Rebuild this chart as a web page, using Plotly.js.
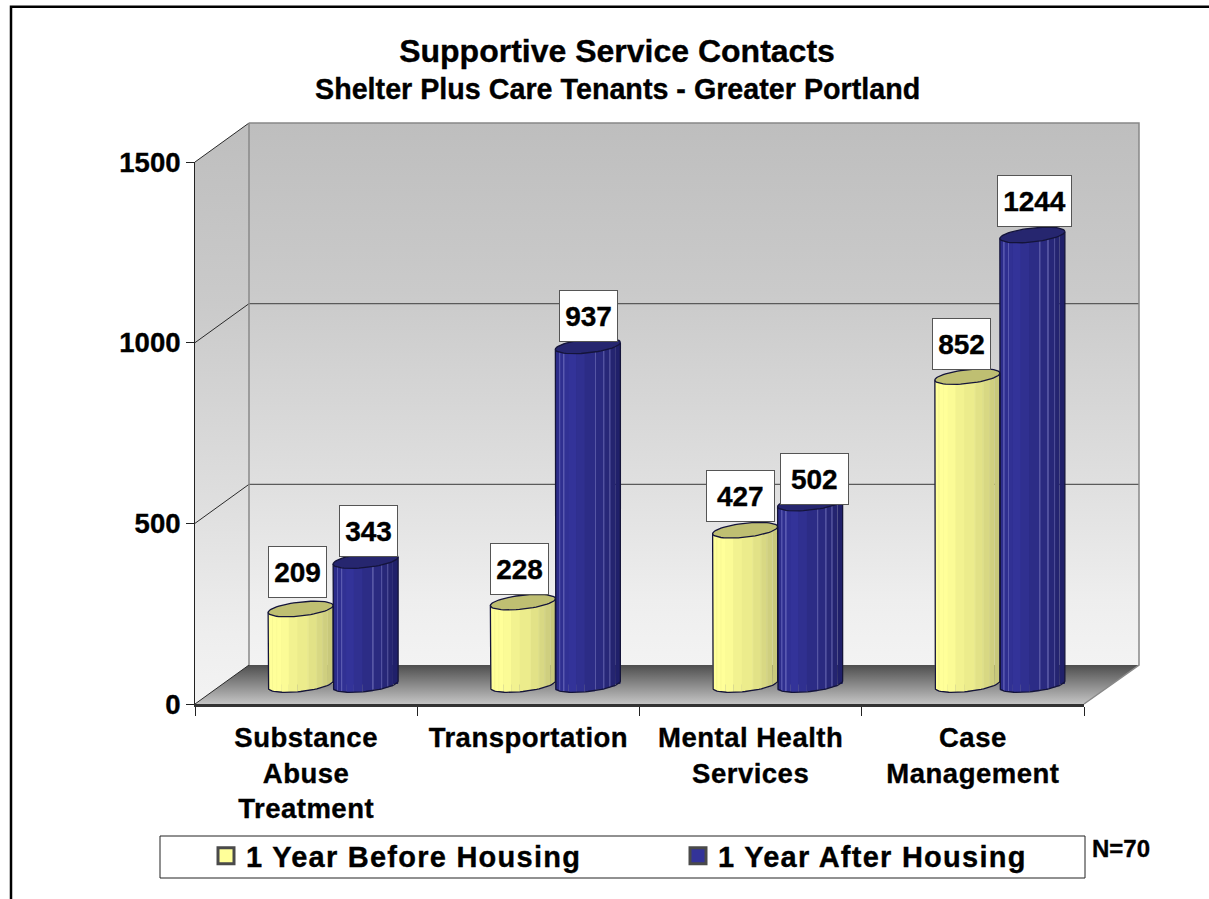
<!DOCTYPE html>
<html>
<head>
<meta charset="utf-8">
<script src="https://cdn.plot.ly/plotly-3.0.1.min.js"></script>
<style>
html,body{margin:0;padding:0;background:#fff;overflow:hidden}
svg text{stroke:#000;stroke-width:.35px}
.legendtext{letter-spacing:1.25px}
.x2tick text{letter-spacing:.5px}
</style>
</head>
<body>
<div id="chart" style="width:1209px;height:899px"></div>
<script>
// ---- data ----
const categories = ["Substance<br>Abuse<br>Treatment", "Transportation", "Mental Health<br>Services", "Case<br>Management"];
const beforeName = "1 Year Before Housing";
const afterName = "1 Year After Housing";
const beforeValues = [209, 228, 427, 852];
const afterValues = [343, 937, 502, 1244];
const yTicks = [0, 500, 1000, 1500];
const titleLine1 = "Supportive Service Contacts";
const titleLine2 = "Shelter Plus Care Tenants - Greater Portland";
const noteText = "N=70";

// ---- style ----
const W = 1209, H = 899;
const FONT = "Liberation Sans, Arial, sans-serif";
const scale = (704 - 162) / 1500;          // px per value unit
const catPx = (1084 - 195) / 4;            // px per category
const halfW = 32.5, tilt = 3.5, elB = 7;   // cylinder cross-section, px
const stripEdges = [0,.06,.075,.125,.14,.2,.32,.45,.61,.625,.74,.755,.835,.85,.92,1];
const yellowShades = ["#ffff99","#f8f894","#ffff99","#fbfb96","#ffff99","#fbfb96","#f2f290","#ecec8c","#e9e98f","#e2e287","#dedf8a","#d8d883","#d4d488","#cfcf7f","#c8c87b"];
const blueShades = ["#2c2c8a","#5454ac","#2f2f90","#5a5ab0","#313194","#333399","#303090","#2c2c86","#5656a4","#2a2a80","#5252a0","#272778","#4c4c96","#242470","#20206a"];
const yellowTop = "#bfbf72", blueTop = "#26266f";
const edgeColor = "#14143a";
const wallStops = [[0,"#f3f3f3"],[0.12,"#eeeeee"],[0.34,"#dfdfdf"],[0.69,"#cacaca"],[1,"#bebebe"]];
// value-label boxes: [centre offset x from cylinder, centre above top, width]
const beforeBox = [[-3.5,36.5,58],[-3,33,58],[-5,34,67.5],[-5.5,33,58]];
const afterBox  = [[3,30,58],[1,29.5,58],[4,24.5,67.5],[2.5,34.5,74]];

const topPx = v => 1 - v / H;
const d = (a, b) => [a / W, b / W];

function poly(pts, gradStops) {
  return { x: pts.map(p => p[0]), y: pts.map(p => p[1]), xaxis: "x", yaxis: "y", type: "scatter",
    mode: "none", fill: "toself", hoverinfo: "skip", showlegend: false,
    fillgradient: { type: "vertical", colorscale: gradStops } };
}
function scene(xs, ys, color, width) {
  return { x: xs, y: ys, xaxis: "x", yaxis: "y", type: "scatter", mode: "lines",
    line: { color, width }, hoverinfo: "skip", showlegend: false };
}

const traces = [];
// walls and floor on a hidden pixel plane
traces.push(poly([[249,123],[1139,123],[1139,665],[249,665]], wallStops));
traces.push(poly([[195,162],[249,123],[249,665],[195,704]], wallStops));
traces.push(poly([[249,665],[1139,665],[1084,704],[195,704]], [[0,"#c4c4c4"],[1,"#4e4e4e"]]));
// grid from the tick values
const gx = [], gy = [], lx = [], ly = [];
yTicks.forEach(v => {
  const back = 665 - v * scale, front = 704 - v * scale;
  if (v > 0 && v < 1500) { gx.push(249, 1139, null); gy.push(back, back, null); }
  lx.push(195, 249, null); ly.push(front, back, null);
});
traces.push(scene(gx, gy, "#5a5a5a", 1.3));
traces.push(scene(lx, ly, "#2a2a2a", 1));
traces.push(scene([249,249,null,249,1139,1139,1084], [665,123,null,123,123,665,704], "#888888", 1.5));

// category axis carrier
traces.push({ x: categories, y: [0,0,0,0], xaxis: "x2", yaxis: "y2", type: "scatter", mode: "none", hoverinfo: "skip", showlegend: false });

const pxX = catPx; // px per x unit on the bar axis
function cylinders(values, sign, shades, topColor, name) {
  const off = sign * halfW / pxX;  // cylinder centre offset from category centre
  const xs = values.map((_, i) => i);
  // the series itself
  traces.push({ type: "bar", name, x: xs, y: values, xaxis: "x3", yaxis: "y3",
    width: 1.5 * halfW / pxX, offset: off - 0.75 * halfW / pxX,
    marker: { color: shades[6], line: { width: 0 } }, hoverinfo: "skip", showlegend: false });
  // shaded strips of the round body, following the top and bottom curves
  shades.forEach((c, k) => {
    const a = stripEdges[k], b = stripEdges[k + 1];
    const u = (a + b) - 1;
    const drop = (-tilt * u + elB * Math.sqrt(Math.max(0, 1 - u * u))) / scale;
    const lift = tilt * u / scale;
    traces.push({ type: "bar", x: xs, y: values.map(v => v + lift + drop), base: values.map(() => -drop),
      xaxis: "x3", yaxis: "y3", width: (b - a) * 2 * halfW / pxX, offset: off + (a * 2 - 1) * halfW / pxX,
      marker: { color: c, line: { width: 0 } }, hoverinfo: "skip", showlegend: false });
  });
  // outline and top ellipse
  const ox = [], oy = [];
  const ex = [], ey = [];
  values.forEach((v, i) => {
    const cx = i + off;
    ox.push(cx - halfW / pxX);
    oy.push(v - tilt / scale);
    for (let t = 0; t <= 36; t++) {
      const th = Math.PI * t / 36, cs = -Math.cos(th), sn = Math.sin(th);
      ox.push(cx + cs * halfW / pxX);
      oy.push((tilt * cs - elB * sn) / scale);
    }
    ox.push(cx + halfW / pxX, null);
    oy.push(v + tilt / scale, null);
    for (let t = 0; t <= 60; t++) {
      const th = 2 * Math.PI * t / 60, cs = Math.cos(th), sn = Math.sin(th);
      ex.push(cx + cs * halfW / pxX);
      ey.push(v + (tilt * cs - elB * sn) / scale);
    }
    ex.push(null); ey.push(null);
  });
  traces.push({ x: ox, y: oy, xaxis: "x3", yaxis: "y3", type: "scatter", mode: "lines",
    line: { color: edgeColor, width: 1.3 }, hoverinfo: "skip", showlegend: false });
  traces.push({ x: ex, y: ey, xaxis: "x3", yaxis: "y3", type: "scatter", mode: "lines", fill: "toself",
    fillcolor: topColor, line: { color: edgeColor, width: 1.3 }, hoverinfo: "skip", showlegend: false });
}
cylinders(beforeValues, -1, yellowShades, yellowTop, beforeName);
cylinders(afterValues, 1, blueShades, blueTop, afterName);

// legend entries
[[beforeName, "#ffff99"], [afterName, "#333399"]].forEach(([n, c]) => {
  traces.push({ x: [null], y: [null], xaxis: "x2", yaxis: "y2", type: "scatter", mode: "markers", name: n,
    marker: { symbol: "square", size: 16, color: c, line: { color: "#4a4a4a", width: 3 } }, hoverinfo: "skip" });
});

function valueLabels(values, sign, boxes) {
  return values.map((v, i) => ({
    xref: "x3", yref: "y3", x: i + sign * halfW / pxX, y: v, text: String(v), showarrow: false,
    xanchor: "center", yanchor: "middle", xshift: boxes[i][0], yshift: boxes[i][1],
    width: boxes[i][2] - 1, height: 50, align: "center", valign: "middle",
    bgcolor: "#ffffff", bordercolor: "#555555", borderwidth: 1, borderpad: 0,
    font: { family: FONT, size: 28, color: "#000", weight: 700 }
  }));
}

const layout = {
  width: W, height: H, margin: { l: 0, r: 0, t: 0, b: 0, pad: 0 },
  paper_bgcolor: "#ffffff", plot_bgcolor: "rgba(0,0,0,0)",
  barmode: "overlay", hovermode: false,
  font: { family: FONT, color: "#000" },
  title: { text: titleLine1, x: 617 / W, xanchor: "center", y: 1 - 51 / H, yanchor: "middle",
    font: { family: FONT, size: 32, weight: 700, color: "#000" } },
  xaxis: { domain: [0, 1], range: [0, W], visible: false, fixedrange: true, anchor: "y" },
  yaxis: { domain: [0, 1], range: [H, 0], visible: false, fixedrange: true, anchor: "x" },
  xaxis2: { domain: d(195, 1084), type: "category", categoryorder: "array", categoryarray: categories,
    range: [-0.5, 3.5], anchor: "y2", tickson: "boundaries", ticks: "outside", ticklen: 9, tickcolor: "#222",
    showline: true, linecolor: "#333", linewidth: 2.5, showgrid: false, zeroline: false, fixedrange: true,
    ticklabelstandoff: 7,
    tickfont: { family: FONT, size: 27.5, weight: 700, color: "#000" }, tickangle: 0 },
  yaxis2: { domain: [topPx(704), topPx(162)], range: [0, 1500], anchor: "x2", tickmode: "array", tickvals: yTicks,
    ticks: "outside", ticklen: 8, tickcolor: "#222", showline: true, linecolor: "#222", linewidth: 1,
    showgrid: false, zeroline: false, fixedrange: true,
    tickfont: { family: FONT, size: 27.5, weight: 700, color: "#000" } },
  xaxis3: { domain: d(222, 1111), range: [-0.5, 3.5], visible: false, fixedrange: true, anchor: "y3" },
  yaxis3: { domain: [topPx(684.5 + 60 * scale), topPx(684.5 - 1500 * scale)], range: [-60, 1500], visible: false, fixedrange: true, anchor: "x3" },
  showlegend: true,
  legend: { orientation: "h", x: 206 / W, xanchor: "left", y: 1 - 856 / H, yanchor: "middle",
    bgcolor: "rgba(0,0,0,0)", borderwidth: 0, entrywidth: 427, entrywidthmode: "pixels", traceorder: "normal",
    font: { family: FONT, size: 29, weight: 700, color: "#000" } },
  shapes: [
    { type: "rect", xref: "paper", yref: "paper", x0: 11 / W, x1: 1.1, y0: 1 - 6.8 / H, y1: -0.1, line: { color: "#000", width: 2.5 }, layer: "below" },
    { type: "rect", xref: "paper", yref: "paper", x0: 160 / W, x1: 1085 / W, y0: 1 - 836 / H, y1: 1 - 878 / H, line: { color: "#222", width: 1 }, fillcolor: "#fff", layer: "below" }
  ],
  annotations: [
    ...valueLabels(beforeValues, -1, beforeBox),
    ...valueLabels(afterValues, 1, afterBox),
    { xref: "paper", yref: "paper", x: 617 / W, y: 1 - 89 / H, xanchor: "center", yanchor: "middle", showarrow: false, text: titleLine2,
      font: { family: FONT, size: 28.7, weight: 700, color: "#000" } },
    { xref: "paper", yref: "paper", x: 1090 / W, y: 1 - 848 / H, xanchor: "left", yanchor: "middle", showarrow: false, text: noteText,
      font: { family: FONT, size: 24, weight: 700, color: "#000" } }
  ]
};
Plotly.newPlot("chart", traces, layout, { displayModeBar: false, responsive: false });
</script>
</body>
</html>
